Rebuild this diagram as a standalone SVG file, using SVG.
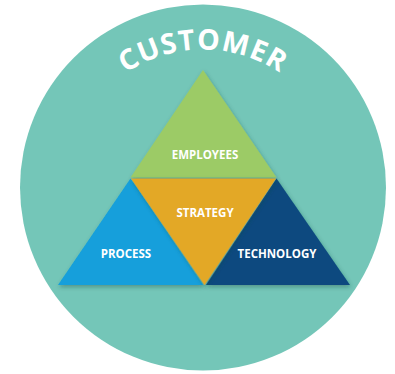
<svg xmlns="http://www.w3.org/2000/svg" width="395" height="374" viewBox="0 0 395 374">
  <defs>
    <style>
      .piece { filter: url(#soft); }
      .label { font-family: "Open Sans", "Liberation Sans", sans-serif; font-weight: 700; font-size: 11.5px; fill: #ffffff; text-anchor: middle; }
      .title { font-family: "Open Sans", "Liberation Sans", sans-serif; font-weight: 700; font-size: 28.5px; fill: #ffffff; letter-spacing: 1px; }
    </style>
    <filter id="soft" x="-20%" y="-20%" width="140%" height="140%">
      <feDropShadow dx="1" dy="2" stdDeviation="2" flood-color="#1d4a44" flood-opacity="0.4"/>
    </filter>
    <!-- baseline arc for the title, concentric with the disc -->
    <path id="titleArc" d="M 65 187.5 A 138 138 0 0 1 341 187.5"/>
  </defs>

  <!-- outer disc -->
  <g id="customer">
    <circle cx="203" cy="187.5" r="183" fill="#74c6b8"/>
    <text class="title"><textPath href="#titleArc" startOffset="50%" text-anchor="middle">CUSTOMER</textPath></text>
  </g>

  <!-- no connectors in this diagram -->
  <g id="connectors"/>

  <g id="employees">
    <polygon class="piece" points="203,70 276.5,177.5 130.5,177.5" fill="#9ccb66"/>
    <text class="label" x="205" y="159">EMPLOYEES</text>
  </g>

  <g id="process">
    <polygon class="piece" points="130.5,178.5 203,285 58,285" fill="#139fdb"/>
    <text class="label" x="126" y="258">PROCESS</text>
  </g>

  <g id="technology">
    <polygon class="piece" points="276.5,178.5 350,285 206,285" fill="#0b4a7f"/>
    <text class="label" x="277" y="258">TECHNOLOGY</text>
  </g>

  <g id="strategy">
    <polygon class="piece" points="131,178.5 276,178.5 204.5,285" fill="#e3a826"/>
    <text class="label" x="205" y="216.5">STRATEGY</text>
  </g>
</svg>
